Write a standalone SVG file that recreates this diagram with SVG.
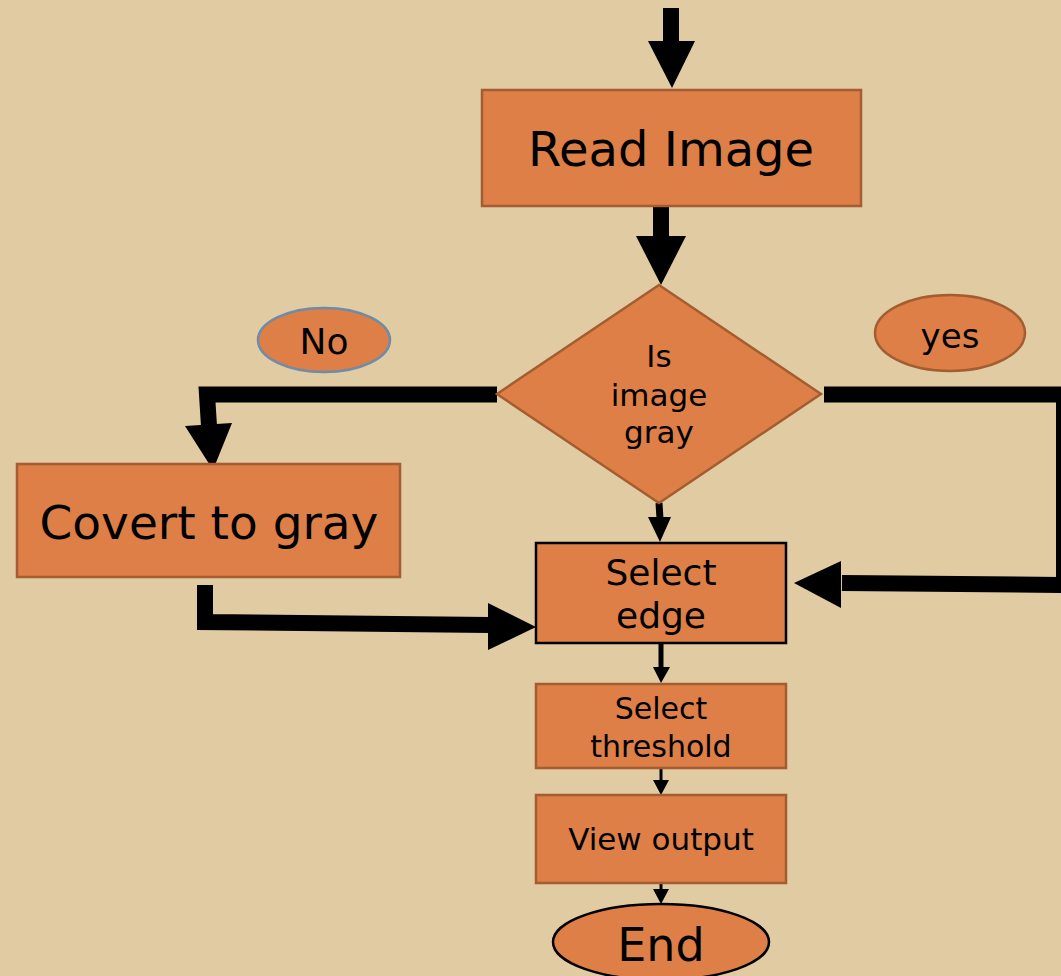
<svg xmlns="http://www.w3.org/2000/svg" width="1061" height="976" viewBox="0 0 1061 976">
<style>
.box{fill:#DD7F47;stroke:#A35D31;stroke-width:2.5}
.bk{fill:#DD7F47;stroke:#000;stroke-width:2.5}
.t{font-family:"DejaVu Sans",Verdana,sans-serif;fill:#000;text-anchor:middle}
.ln{fill:none;stroke:#000;stroke-linejoin:miter;stroke-linecap:butt}
.hd{fill:#000}
</style>
<rect width="1061" height="976" fill="#E0CBA3"/>
<g id="connectors">
<line class="ln" x1="671" y1="8" x2="671" y2="42" stroke-width="16"/>
<polygon class="hd" points="648,41 695,41 672,88"/>
<line class="ln" x1="661" y1="206" x2="661" y2="237" stroke-width="16"/>
<polygon class="hd" points="636,236 686,236 661,285"/>
<polyline class="ln" points="497,394.5 207,394.5 209,426" stroke-width="16"/>
<polygon class="hd" points="185,426 232,423 213,470"/>
<polyline class="ln" points="205,585 205,622 490,625" stroke-width="16"/>
<polygon class="hd" points="488,603 488,650 536,627"/>
<polyline class="ln" points="824,394.5 1064,394.5 1064,585 842,583" stroke-width="16"/>
<polygon class="hd" points="841,561 841,608 794,583"/>
<line class="ln" x1="659" y1="503" x2="660" y2="519" stroke-width="7"/>
<polygon class="hd" points="648,517 671,517 660,542"/>
<line class="ln" x1="661" y1="643" x2="661" y2="668" stroke-width="5"/>
<polygon class="hd" points="653,667 670,667 661,683"/>
<line class="ln" x1="661" y1="768" x2="661" y2="781" stroke-width="3"/>
<polygon class="hd" points="653,780 669,780 661,795"/>
<line class="ln" x1="661" y1="883" x2="661" y2="890" stroke-width="3"/>
<polygon class="hd" points="653,889 669,889 661,904"/>
</g>
<g id="read-image">
<rect class="box" x="482" y="90" width="379" height="116"/>
<text class="t" x="671" y="166" font-size="48">Read Image</text>
</g>
<g id="is-gray">
<polygon class="box" points="659,285 821,394 659,503 497,394"/>
<text class="t" x="659" y="367" font-size="31">Is</text>
<text class="t" x="659" y="406" font-size="31">image</text>
<text class="t" x="659" y="443" font-size="31">gray</text>
</g>
<g id="no-label">
<ellipse cx="324" cy="340" rx="66" ry="32" fill="#DD7F47" stroke="#6E8BA8" stroke-width="2.5"/>
<text class="t" x="324" y="354" font-size="36">No</text>
</g>
<g id="yes-label">
<ellipse class="box" cx="950" cy="333" rx="75" ry="38"/>
<text class="t" x="950" y="348" font-size="34">yes</text>
</g>
<g id="convert-gray">
<rect class="box" x="17" y="464" width="383" height="113"/>
<text class="t" x="209" y="539" font-size="47">Covert to gray</text>
</g>
<g id="select-edge">
<rect class="bk" x="536" y="543" width="250" height="100"/>
<text class="t" x="661" y="585" font-size="36">Select</text>
<text class="t" x="661" y="628" font-size="36">edge</text>
</g>
<g id="select-threshold">
<rect class="box" x="536" y="684" width="250" height="84"/>
<text class="t" x="661" y="719" font-size="30">Select</text>
<text class="t" x="661" y="757" font-size="30">threshold</text>
</g>
<g id="view-output">
<rect class="box" x="536" y="795" width="250" height="88"/>
<text class="t" x="661" y="850" font-size="31">View output</text>
</g>
<g id="end">
<ellipse class="bk" cx="661" cy="942" rx="108" ry="38"/>
<text class="t" x="661" y="961" font-size="46">End</text>
</g>
</svg>
